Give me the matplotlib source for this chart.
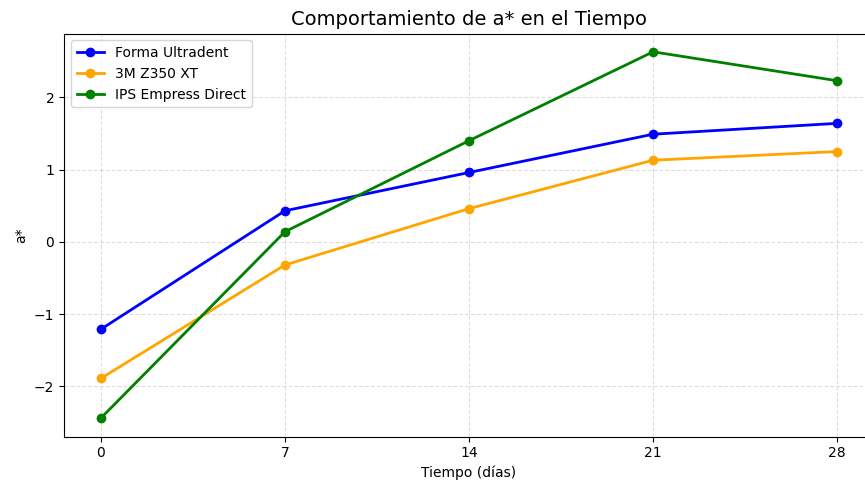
import matplotlib
matplotlib.use("Agg")
import matplotlib.pyplot as plt

tiempo = [0, 7, 14, 21, 28]
forma_ultradent = [-1.21, 0.43, 0.96, 1.49, 1.64]
m3_z350 = [-1.89, -0.32, 0.46, 1.13, 1.25]
ips_empress = [-2.44, 0.14, 1.40, 2.63, 2.23]

fig = plt.figure(figsize=(8.65, 4.83), dpi=100)
ax = fig.add_axes([64/865, 46.5/483, 810/865, 403/483])

ax.plot(tiempo, forma_ultradent, marker='o', color='blue', linewidth=2, label='Forma Ultradent')
ax.plot(tiempo, m3_z350, marker='o', color='orange', linewidth=2, label='3M Z350 XT')
ax.plot(tiempo, ips_empress, marker='o', color='green', linewidth=2, label='IPS Empress Direct')

ax.set_xticks(tiempo)
ax.set_title('Comportamiento de a* en el Tiempo', fontsize=14)
ax.set_xlabel('Tiempo (días)')
ax.set_ylabel('a*')
ax.grid(True, linestyle='--', alpha=0.4)
ax.legend(loc='upper left')

fig.savefig('out.png', dpi=100)
